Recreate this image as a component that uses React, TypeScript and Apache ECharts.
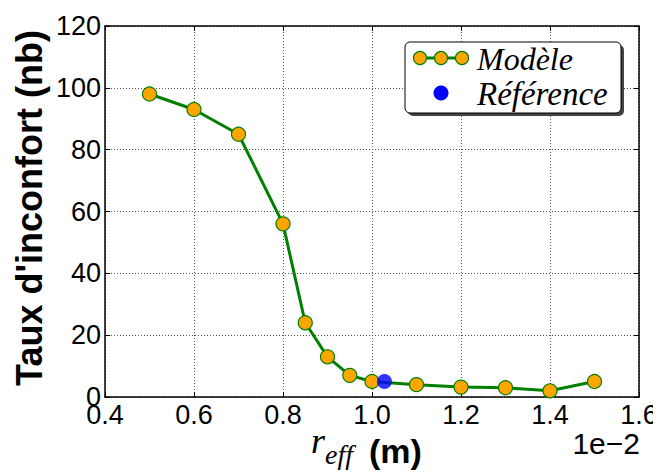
import React, { useEffect, useRef } from "react";
import * as echarts from "echarts";

const reffValues = [0.5, 0.6, 0.7, 0.8, 0.85, 0.9, 0.95, 1.0, 1.1, 1.2, 1.3, 1.4, 1.5];
const modelValues = [98, 93, 85, 56, 24, 13, 7, 5, 4, 3.2, 3, 2, 5];
const referencePoint = [1.028, 5];
const xTicks = { min: 0.4, max: 1.6, interval: 0.2 };
const yTicks = { min: 0, max: 120, interval: 20 };
const legendNames = ["Modèle", "Référence"];

const SANS = "'Liberation Sans', Arial, sans-serif";
const SERIF = "'Liberation Serif', 'DejaVu Serif', serif";

export default function App() {
  const ref = useRef<HTMLDivElement>(null);
  useEffect(() => {
    if (!ref.current) return;
    const chart = echarts.init(ref.current, null, { renderer: "svg" });
    const axisCommon = {
      axisLine: { show: true, onZero: false, lineStyle: { color: "#000", width: 1.5 } },
      axisTick: { show: true, inside: true, length: 5, lineStyle: { color: "#000", width: 1 } },
    };
    const lx = 405, ly = 42, lw = 216, lh = 71;
    chart.setOption({
      animation: false,
      grid: { left: 105, right: 22, top: 26, bottom: 75, show: false },
      xAxis: [
        {
          type: "value", position: "bottom", ...xTicks, ...axisCommon,
          axisLabel: {
            fontSize: 27, color: "#000", fontFamily: SANS, margin: 4,
            formatter: (v: number) => v.toFixed(1),
          },
          splitLine: { show: true, lineStyle: { color: "#555", type: [1, 2], width: 1 } },
        },
        {
          type: "value", position: "top", ...xTicks, ...axisCommon,
          axisLabel: { show: false }, splitLine: { show: false },
        },
      ],
      yAxis: [
        {
          type: "value", position: "left", ...yTicks, ...axisCommon,
          axisLabel: { fontSize: 27, color: "#000", fontFamily: SANS, margin: 4 },
          splitLine: { show: true, lineStyle: { color: "#555", type: [1, 2], width: 1 } },
        },
        {
          type: "value", position: "right", ...yTicks, ...axisCommon,
          axisLabel: { show: false }, splitLine: { show: false },
        },
      ],
      series: [
        {
          name: legendNames[0],
          type: "line",
          data: reffValues.map((x, i) => [x, modelValues[i]]),
          symbol: "circle",
          symbolSize: 14,
          lineStyle: { color: "#008000", width: 3 },
          itemStyle: { color: "#FFA500", borderColor: "#008000", borderWidth: 1.2 },
          z: 3,
        },
        {
          name: legendNames[1],
          type: "scatter",
          data: [referencePoint],
          symbol: "circle",
          symbolSize: 15,
          itemStyle: { color: "#0000FF" },
          z: 4,
        },
      ],
      graphic: [
        {
          type: "text",
          x: 29, y: 208,
          rotation: Math.PI / 2,
          style: {
            text: "Taux d'inconfort (nb)",
            font: `bold 36px ${SANS}`,
            fill: "#000",
            align: "center",
            verticalAlign: "middle",
          },
        },
        {
          type: "text",
          x: 311, y: 441,
          style: {
            text: "r",
            font: `italic 36px ${SERIF}`,
            fill: "#000",
            align: "left",
            verticalAlign: "middle",
          },
        },
        {
          type: "text",
          x: 325, y: 454,
          style: {
            text: "eff",
            font: `italic 28px ${SERIF}`,
            fill: "#000",
            align: "left",
            verticalAlign: "middle",
          },
        },
        {
          type: "text",
          x: 369, y: 451,
          style: {
            text: "(m)",
            font: `bold 34px ${SANS}`,
            fill: "#000",
            align: "left",
            verticalAlign: "middle",
          },
        },
        {
          type: "text",
          x: 640, y: 443,
          style: {
            text: "1e\u22122",
            font: `30px ${SANS}`,
            fill: "#000",
            align: "right",
            verticalAlign: "middle",
          },
        },
        {
          type: "rect",
          shape: { x: lx + 3, y: ly + 3, width: lw, height: lh, r: 5 },
          style: { fill: "#444" },
          z: 10,
        },
        {
          type: "rect",
          shape: { x: lx, y: ly, width: lw, height: lh, r: 5 },
          style: { fill: "#fff", stroke: "#000", lineWidth: 1 },
          z: 11,
        },
        {
          type: "polyline",
          shape: { points: [[415, 58], [467, 58]] },
          style: { stroke: "#008000", lineWidth: 3 },
          z: 12,
        },
        ...[420, 441, 462].map((cx) => ({
          type: "circle",
          shape: { cx, cy: 58, r: 6.5 },
          style: { fill: "#FFA500", stroke: "#008000", lineWidth: 1.2 },
          z: 13,
        })),
        {
          type: "circle",
          shape: { cx: 441, cy: 93, r: 7.5 },
          style: { fill: "#0000FF" },
          z: 13,
        },
        {
          type: "text",
          x: 477, y: 59,
          style: {
            text: legendNames[0],
            font: `italic 32px ${SERIF}`,
            fill: "#000",
            verticalAlign: "middle",
          },
          z: 13,
        },
        {
          type: "text",
          x: 477, y: 94,
          style: {
            text: legendNames[1],
            font: `italic 33px ${SERIF}`,
            fill: "#000",
            verticalAlign: "middle",
          },
          z: 13,
        },
      ],
    });
    return () => chart.dispose();
  }, []);
  return <div ref={ref} style={{ width: 661, height: 472, marginLeft: -8, marginTop: -8 }} />;
}
